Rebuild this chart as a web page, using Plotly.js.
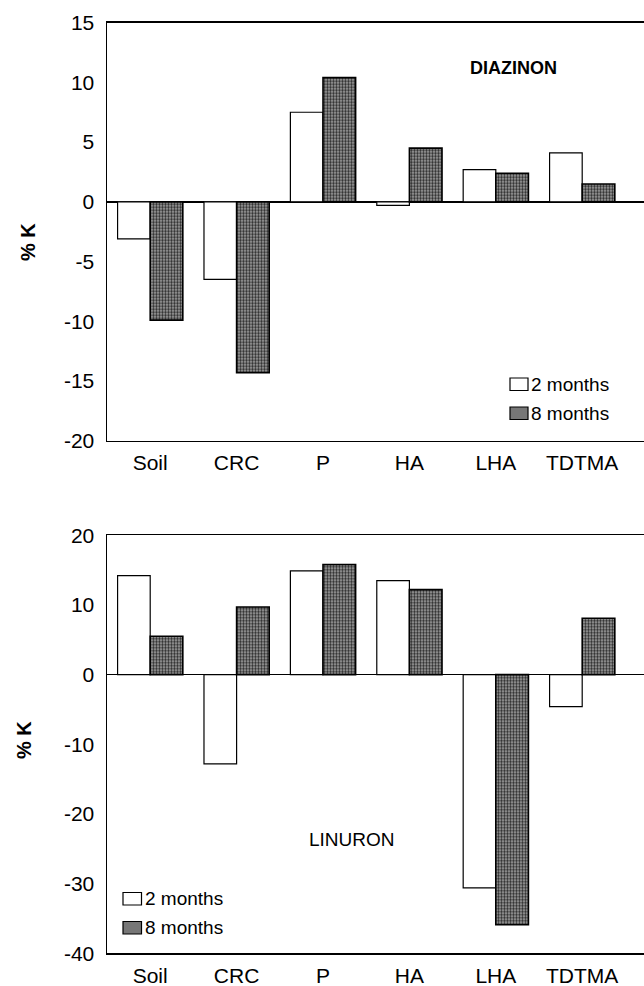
<!DOCTYPE html>
<html>
<head>
<meta charset="utf-8">
<script src="https://cdn.plot.ly/plotly-3.0.1.min.js"></script>
<style>
html,body{margin:0;padding:0;background:#fff;overflow:hidden;width:644px;height:986px;}
#chart{width:660px;height:986px;}
</style>
</head>
<body>
<div id="chart"></div>
<script>
// ---- data ----
const categories = ['Soil', 'CRC', 'P', 'HA', 'LHA', 'TDTMA'];
const seriesNames = ['2 months', '8 months'];
const diazinon2 = [-3.1, -6.5, 7.5, -0.3, 2.7, 4.1];
const diazinon8 = [-9.9, -14.3, 10.4, 4.5, 2.4, 1.5];
const linuron2 = [14.2, -12.8, 14.9, 13.5, -30.6, -4.6];
const linuron8 = [5.5, 9.7, 15.8, 12.2, -35.9, 8.1];
const diazinonTicks = [-20, -15, -10, -5, 0, 5, 10, 15];
const linuronTicks = [-40, -30, -20, -10, 0, 10, 20];
const panelLabels = ['DIAZINON', 'LINURON'];
const yTitle = '% K';

// ---- layout helpers (page pixels -> paper fractions) ----
const W = 660, H = 986, ML = 107, MR = 10;
const PW = W - ML - MR;
const px = v => (v - ML) / PW;
const py = v => (H - v) / H;

const FONT = 'Liberation Sans, Arial, Helvetica, sans-serif';
const whiteBar = {color: '#ffffff', line: {color: '#000', width: 1.2}};
const darkBar = {
  color: '#8a8a8a',
  line: {color: '#000', width: 1.6},
  pattern: {shape: '.', bgcolor: '#a8a8a8', fgcolor: '#2a2a2a', size: 3, solidity: 0.5}
};

const traces = [
  {type: 'bar', x: categories, y: diazinon2, name: seriesNames[0], marker: whiteBar, xaxis: 'x', yaxis: 'y', showlegend: false},
  {type: 'bar', x: categories, y: diazinon8, name: seriesNames[1], marker: darkBar, xaxis: 'x', yaxis: 'y', showlegend: false},
  {type: 'bar', x: categories, y: linuron2, name: seriesNames[0], marker: whiteBar, xaxis: 'x2', yaxis: 'y2', showlegend: false},
  {type: 'bar', x: categories, y: linuron8, name: seriesNames[1], marker: darkBar, xaxis: 'x2', yaxis: 'y2', showlegend: false}
];

const xRange = [-0.5, -0.5 + PW / 86.4];
const xCommon = {
  type: 'category', range: xRange, showline: true, linecolor: '#000', linewidth: 1.5, mirror: true,
  showgrid: false, zeroline: false, ticks: '', ticklabelstandoff: 3,
  tickfont: {family: FONT, size: 21, color: '#000'}, automargin: false, fixedrange: true
};
const yCommon = {
  showline: true, linecolor: '#000', linewidth: 1.5, mirror: true, showgrid: false,
  zeroline: true, zerolinecolor: '#000', zerolinewidth: 1.5, ticks: '', ticklabelstandoff: 7,
  tickfont: {family: FONT, size: 21, color: '#000'}, automargin: false, fixedrange: true
};

const layout = {
  width: W, height: H,
  margin: {l: ML, r: MR, t: 0, b: 0},
  paper_bgcolor: '#fff', plot_bgcolor: '#fff',
  barmode: 'group', bargap: 0.245, bargroupgap: 0,
  font: {family: FONT, color: '#000'},
  showlegend: false,
  xaxis: Object.assign({}, xCommon, {anchor: 'y'}),
  xaxis2: Object.assign({}, xCommon, {anchor: 'y2'}),
  yaxis: Object.assign({}, yCommon, {domain: [py(440.7), py(22.7)], range: [-20, 15],
    tickvals: diazinonTicks, ticktext: diazinonTicks.map(String), anchor: 'x'}),
  yaxis2: Object.assign({}, yCommon, {domain: [py(953.3), py(535.3)], range: [-40, 20],
    tickvals: linuronTicks, ticktext: linuronTicks.map(String), anchor: 'x2'}),
  annotations: [
    {text: panelLabels[0], xref: 'paper', yref: 'paper', x: px(513), y: py(68), showarrow: false,
     xanchor: 'center', yanchor: 'middle', font: {family: FONT, size: 18, color: '#000', weight: 'bold'}},
    {text: panelLabels[1], xref: 'paper', yref: 'paper', x: px(352), y: py(839), showarrow: false,
     xanchor: 'center', yanchor: 'middle', font: {family: FONT, size: 19, color: '#000'}},
    {text: yTitle, xref: 'paper', yref: 'paper', x: px(28), y: py(242), showarrow: false, textangle: -90,
     xanchor: 'center', yanchor: 'middle', font: {family: FONT, size: 20, color: '#000', weight: 'bold'}},
    {text: yTitle, xref: 'paper', yref: 'paper', x: px(24), y: py(740), showarrow: false, textangle: -90,
     xanchor: 'center', yanchor: 'middle', font: {family: FONT, size: 20, color: '#000', weight: 'bold'}},
    // legends
    {text: seriesNames[0], xref: 'paper', yref: 'paper', x: px(529), y: py(384.5), showarrow: false,
     xanchor: 'left', yanchor: 'middle', font: {family: FONT, size: 19, color: '#000'}},
    {text: seriesNames[1], xref: 'paper', yref: 'paper', x: px(529), y: py(413), showarrow: false,
     xanchor: 'left', yanchor: 'middle', font: {family: FONT, size: 19, color: '#000'}},
    {text: seriesNames[0], xref: 'paper', yref: 'paper', x: px(142.5), y: py(898.5), showarrow: false,
     xanchor: 'left', yanchor: 'middle', font: {family: FONT, size: 19, color: '#000'}},
    {text: seriesNames[1], xref: 'paper', yref: 'paper', x: px(142.5), y: py(927.5), showarrow: false,
     xanchor: 'left', yanchor: 'middle', font: {family: FONT, size: 19, color: '#000'}}
  ],
  shapes: [
    {type: 'rect', xref: 'paper', yref: 'paper', x0: px(510), x1: px(528), y0: py(390.5), y1: py(378),
     fillcolor: '#fff', line: {color: '#000', width: 1.2}},
    {type: 'rect', xref: 'paper', yref: 'paper', x0: px(510), x1: px(528), y0: py(419.5), y1: py(407),
     fillcolor: '#777', line: {color: '#000', width: 1.2}},
    {type: 'rect', xref: 'paper', yref: 'paper', x0: px(123), x1: px(141.5), y0: py(905), y1: py(892.5),
     fillcolor: '#fff', line: {color: '#000', width: 1.2}},
    {type: 'rect', xref: 'paper', yref: 'paper', x0: px(123), x1: px(141.5), y0: py(934), y1: py(921.5),
     fillcolor: '#777', line: {color: '#000', width: 1.2}}
  ]
};

Plotly.newPlot('chart', traces, layout, {staticPlot: true, displayModeBar: false});
</script>
</body>
</html>
